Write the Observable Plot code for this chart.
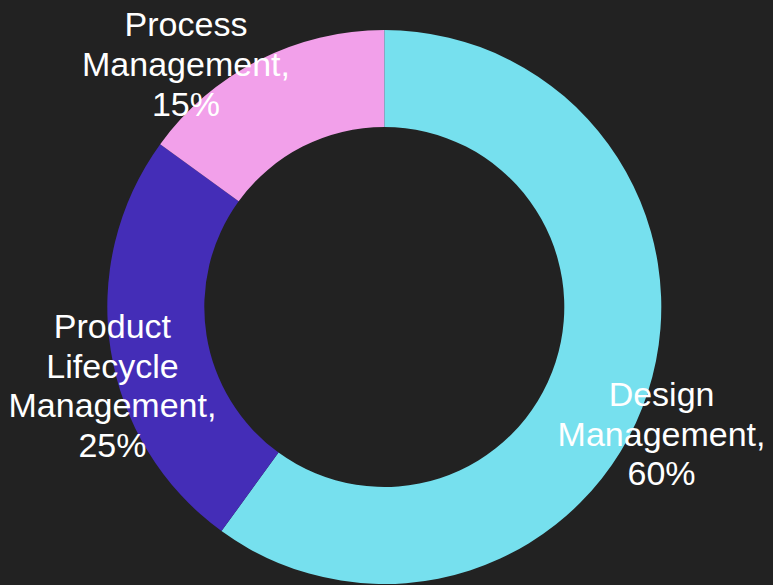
<!DOCTYPE html>
<html>
<head>
<meta charset="utf-8">
<script src="https://cdn.jsdelivr.net/npm/d3@7"></script>
<script src="https://cdn.jsdelivr.net/npm/@observablehq/plot@0.6"></script>
<style>
  html, body { margin: 0; padding: 0; background: #222222; }
  #chart { width: 773px; height: 585px; }
</style>
</head>
<body>
<div id="chart"></div>
<script>
// Data
const categories = ["Design Management", "Product Lifecycle Management", "Process Management"];
const values = [60, 25, 15];
const colors = ["#76E0EE", "#442DB7", "#F2A0EA"];

// Layout (pixels)
const W = 773, H = 585;
const cx = 384.3, cy = 307, R = 277, r0 = 180;
const fontSize = 34, lineHeight = 1.17;
const fontFamily = "'Liberation Sans', Arial, sans-serif";
const labelRpx = 315, dropPx = 28, sidePad = 8, topPad = 3;

const pie = d3.pie().sort(null).value(d => d.value);
const arcs = pie(categories.map((c, i) => ({category: c, value: values[i], color: colors[i]})));

const ctx = document.createElement("canvas").getContext("2d");
ctx.font = `${fontSize}px ${fontFamily}`;

// label placement: radial, kept inside the canvas
const labelData = arcs.map(a => {
  const mid = (a.startAngle + a.endAngle) / 2;
  const lines = a.data.category.split(" ");
  lines[lines.length - 1] += ",";
  lines.push(a.data.value + "%");
  const halfW = d3.max(lines, l => ctx.measureText(l).width) / 2;
  const halfH = lines.length * fontSize * lineHeight / 2;
  let px = cx + labelRpx * Math.sin(mid);
  let py = cy - labelRpx * Math.cos(mid);
  if (py - halfH < topPad) {
    // slide along the label circle until the block fits below the top edge
    py = topPad + halfH;
    const dy = py - cy;
    const s = Math.sign(Math.sin(mid));
    px = cx + s * Math.sqrt(Math.max(0, labelRpx * labelRpx - dy * dy));
  } else {
    py += dropPx;
  }
  px = Math.min(W - sidePad - halfW, Math.max(sidePad + halfW, px));
  return {x: (px - cx) / R, y: (cy - py) / R, text: lines.join("\n")};
});

const donut = (index, scales) => {
  const {x, y} = scales;
  const ox = x(0), oy = y(0);
  const k = x(1) - x(0);
  const arc = d3.arc().innerRadius(r0 / R * k).outerRadius(k);
  const g = d3.create("svg:g").attr("transform", `translate(${ox},${oy})`);
  g.selectAll("path").data(arcs).join("path")
    .attr("d", arc)
    .attr("fill", d => d.data.color);
  return g.node();
};

const chart = Plot.plot({
  width: W,
  height: H,
  margin: 0,
  style: {background: "#222222", color: "white", fontFamily},
  x: {domain: [-cx / R, (W - cx) / R], axis: null},
  y: {domain: [-(H - cy) / R, cy / R], axis: null},
  marks: [
    donut,
    Plot.text(labelData, {
      x: "x", y: "y", text: "text",
      fill: "white", fontSize, lineHeight,
      textAnchor: "middle", lineAnchor: "middle",
      fontFamily
    })
  ]
});
document.getElementById("chart").appendChild(chart);
</script>
</body>
</html>
